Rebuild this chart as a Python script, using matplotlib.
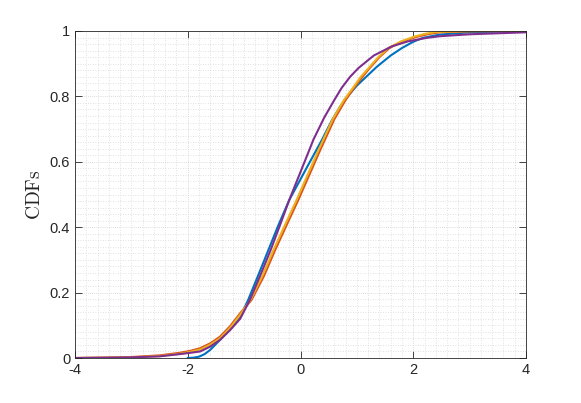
import matplotlib
matplotlib.use("Agg")
import matplotlib.pyplot as plt
from matplotlib.ticker import MultipleLocator

plt.rcParams['font.family'] = ['Liberation Sans', 'DejaVu Sans']
plt.rcParams['mathtext.fontset'] = 'cm'

# values (x, cdf)
blue_x = [-2.0, -1.9, -1.8, -1.7, -1.6, -1.43, -1.25, -1.07, -0.93, -0.75, -0.57, -0.4, -0.2,
          0.12, 0.38, 0.56, 0.7, 0.85, 1.0, 1.35, 1.6, 1.8, 2.0, 2.17, 2.47, 3.0, 3.5, 4.0]
blue_y = [0.0, 0.001, 0.004, 0.012, 0.025, 0.055, 0.09, 0.126, 0.177, 0.253, 0.33, 0.403, 0.483,
          0.585, 0.667, 0.728, 0.768, 0.803, 0.833, 0.89, 0.925, 0.948, 0.967, 0.979, 0.989,
          0.996, 0.998, 1.0]

red_x = [-4.0, -3.5, -3.0, -2.5, -2.14, -1.95, -1.78, -1.6, -1.43, -1.25, -1.07, -0.87, -0.65,
         -0.45, -0.25, -0.04, 0.35, 0.6, 0.8, 0.95, 1.1, 1.23, 1.4, 1.58, 1.8, 2.06, 2.25, 2.47,
         3.0, 4.0]
red_y = [0.0, 0.001, 0.003, 0.008, 0.016, 0.022, 0.03, 0.045, 0.065, 0.097, 0.137, 0.177, 0.25,
         0.33, 0.405, 0.483, 0.636, 0.73, 0.789, 0.826, 0.86, 0.887, 0.92, 0.948, 0.968, 0.982,
         0.99, 0.996, 0.999, 1.0]

yellow_x = [-4.0, -3.5, -3.0, -2.5, -2.14, -1.95, -1.78, -1.6, -1.43, -1.25, -1.07, -0.89, -0.68,
            -0.48, -0.28, -0.07, 0.32, 0.57, 0.77, 0.93, 1.07, 1.21, 1.38, 1.56, 1.78, 2.02, 2.2,
            2.4, 3.0, 4.0]
yellow_y = [0.0, 0.001, 0.002, 0.006, 0.013, 0.019, 0.026, 0.041, 0.06, 0.092, 0.132, 0.177, 0.25,
            0.33, 0.405, 0.483, 0.636, 0.73, 0.789, 0.826, 0.86, 0.887, 0.92, 0.948, 0.968, 0.983,
            0.991, 0.997, 1.0, 1.0]

purple_x = [-4.0, -3.5, -3.0, -2.5, -2.14, -1.95, -1.78, -1.6, -1.43, -1.25, -1.07, -0.9, -0.72,
            -0.53, -0.36, -0.2, 0.0, 0.156, 0.227, 0.42, 0.6, 0.73, 0.88, 1.03, 1.3, 1.62, 1.9,
            2.24, 2.47, 3.0, 3.5, 4.0]
purple_y = [0.0, 0.001, 0.002, 0.005, 0.012, 0.016, 0.02, 0.035, 0.055, 0.085, 0.12, 0.177, 0.25,
            0.33, 0.408, 0.483, 0.569, 0.636, 0.667, 0.735, 0.789, 0.826, 0.86, 0.887, 0.925,
            0.953, 0.968, 0.979, 0.984, 0.99, 0.993, 0.996]

xticks = [-4, -2, 0, 2, 4]
xticklabels = ['-4', '-2', '0', '2', '4']
yticks = [0, 0.2, 0.4, 0.6, 0.8, 1]
yticklabels = ['0', '0.2', '0.4', '0.6', '0.8', '1']

fig = plt.figure(figsize=(5.81, 4.03), dpi=100)
ax = fig.add_axes([75 / 581, 45 / 403, 451 / 581, 327 / 403])

ax.plot(blue_x, blue_y, color='#0072BD', lw=1.5, solid_joinstyle='round')
ax.plot(red_x, red_y, color='#D95319', lw=1.5, solid_joinstyle='round')
ax.plot(yellow_x, yellow_y, color='#EDB120', lw=1.5, solid_joinstyle='round')
ax.plot(purple_x, purple_y, color='#7E2F8E', lw=1.5, solid_joinstyle='round')

ax.set_xlim(-4, 4)
ax.set_ylim(0, 1)
ax.set_xticks(xticks)
ax.set_xticklabels(xticklabels)
ax.set_yticks(yticks)
ax.set_yticklabels(yticklabels)
ax.xaxis.set_minor_locator(MultipleLocator(0.2))
ax.yaxis.set_minor_locator(MultipleLocator(0.02))

ax.grid(which='major', color='#d0d0d0', lw=0.6, ls=(0, (1, 1.5)))
ax.grid(which='minor', color='#d8d8d8', lw=0.6, ls=(0, (1, 2)))
ax.set_axisbelow(True)

ax.tick_params(which='major', direction='in', length=5, width=0.6, colors='#262626',
               top=True, right=True, labelsize=10.5)
ax.tick_params(which='minor', length=0, top=True, right=True)
for s in ax.spines.values():
    s.set_color('#262626')
    s.set_linewidth(0.6)

ax.set_ylabel(r'$\mathrm{CDFs}$', fontsize=14, color='#262626', labelpad=4)

fig.savefig('out.png', dpi=100)
